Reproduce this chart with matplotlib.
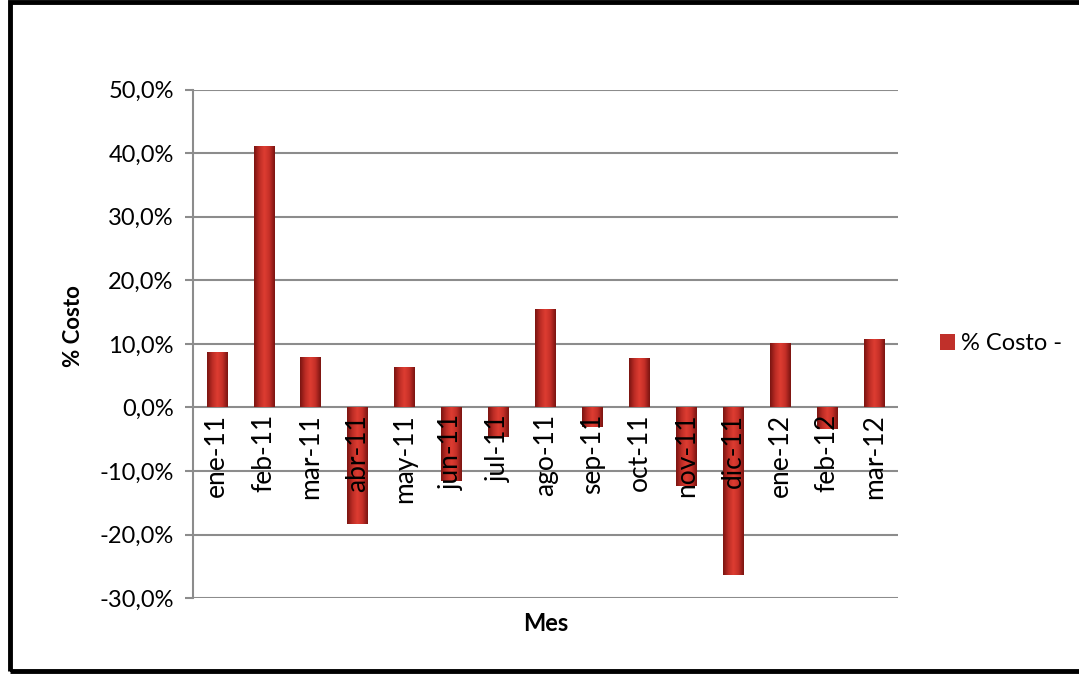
import numpy as np
import matplotlib
matplotlib.use('Agg')
import matplotlib.pyplot as plt
from matplotlib.patches import Rectangle
from matplotlib.ticker import FuncFormatter
from matplotlib.colors import LinearSegmentedColormap

plt.rcParams['font.family'] = ['Lato', 'DejaVu Sans']

meses = ['ene-11', 'feb-11', 'mar-11', 'abr-11', 'may-11', 'jun-11', 'jul-11', 'ago-11',
         'sep-11', 'oct-11', 'nov-11', 'dic-11', 'ene-12', 'feb-12', 'mar-12']
costo = [8.7, 41.2, 8.0, -18.4, 6.4, -11.6, -4.7, 15.5,
         -3.1, 7.8, -12.4, -26.4, 10.2, -3.4, 10.7]

fig = plt.figure(figsize=(10.79, 6.75), dpi=100)
ax = fig.add_axes([0.179, 0.114, 0.653, 0.753])

x = np.arange(len(meses))
bars = ax.bar(x, costo, width=0.43, color='#C0302A', zorder=3, label='% Costo -')

# horizontal shading on each bar (dark edges, bright center)
cmap = LinearSegmentedColormap.from_list('barra', ['#7A1411', '#BC2C25', '#DE3D32', '#C32E27', '#7A1411'])
grad = np.linspace(0, 1, 64).reshape(1, -1)
for b in bars:
    x0, y0 = b.get_x(), b.get_y()
    w, h = b.get_width(), b.get_height()
    im = ax.imshow(grad, cmap=cmap, aspect='auto', zorder=4,
                   extent=[x0, x0 + w, y0, y0 + h], interpolation='bicubic')
    im.set_clip_path(b)

ax.set_xlim(-0.5, len(meses) - 0.5)
ax.set_ylim(-30, 50)
ax.set_yticks(np.arange(-30, 51, 10))
ax.yaxis.set_major_formatter(FuncFormatter(lambda v, p: f'{v:.1f}%'.replace('.', ',')))
ax.grid(axis='y', color='#8C8C8C', linewidth=1.5, zorder=0)
ax.set_axisbelow(True)

for s in ['top', 'right', 'bottom']:
    ax.spines[s].set_visible(False)
ax.spines['left'].set_color('#8C8C8C')
ax.spines['left'].set_linewidth(1.5)
ax.tick_params(axis='y', length=6, color='#8C8C8C', width=1.5, labelsize=17, pad=8)

# x labels sit at the zero line, rotated
ax.set_xticks([])
for xi, m in zip(x, meses):
    ax.text(xi, -1.0, m, rotation=90, ha='center', va='top', fontsize=19, zorder=5)

ax.set_ylabel('% Costo', fontsize=16, fontweight='bold')
ax.yaxis.set_label_coords(-0.155, 0.535)
ax.set_xlabel('Mes', fontsize=17, fontweight='bold', labelpad=10)

ax.legend(loc='center left', bbox_to_anchor=(1.03, 0.5), frameon=False, fontsize=17,
          handlelength=0.65, handleheight=0.65, handletextpad=0.25)

# outer frame
fig.patches.append(Rectangle((10 / 1079, 4 / 675), 1.0, 669 / 675, transform=fig.transFigure,
                             fill=False, edgecolor='black', linewidth=3.5, figure=fig))

fig.savefig('out.png', dpi=100)
